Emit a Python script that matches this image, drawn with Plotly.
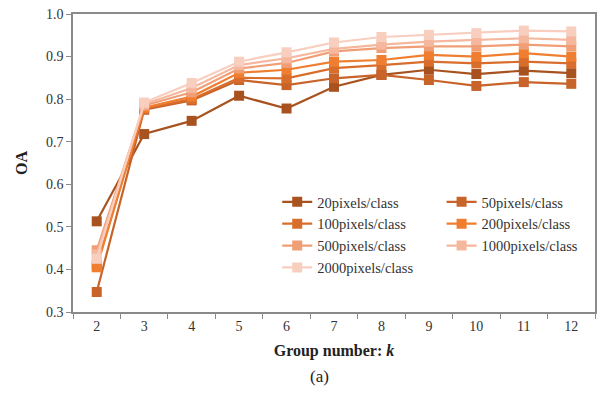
import plotly.graph_objects as go

k_values = ["2", "3", "4", "5", "6", "7", "8", "9", "10", "11", "12"]

series_names = ["20pixels/class", "50pixels/class", "100pixels/class", "200pixels/class",
                "500pixels/class", "1000pixels/class", "2000pixels/class"]

oa_20 = [0.513, 0.718, 0.749, 0.808, 0.778, 0.829, 0.857, 0.869, 0.859, 0.867, 0.861]
oa_50 = [0.347, 0.775, 0.797, 0.845, 0.833, 0.849, 0.857, 0.845, 0.831, 0.840, 0.836]
oa_100 = [0.410, 0.778, 0.800, 0.850, 0.849, 0.873, 0.880, 0.888, 0.884, 0.888, 0.884]
oa_200 = [0.405, 0.780, 0.806, 0.862, 0.869, 0.888, 0.892, 0.904, 0.900, 0.908, 0.900]
oa_500 = [0.445, 0.785, 0.816, 0.872, 0.885, 0.912, 0.920, 0.924, 0.924, 0.928, 0.924]
oa_1000 = [0.435, 0.788, 0.826, 0.880, 0.896, 0.918, 0.928, 0.935, 0.939, 0.943, 0.939]
oa_2000 = [0.425, 0.792, 0.838, 0.888, 0.910, 0.933, 0.946, 0.951, 0.955, 0.961, 0.959]

series_values = [oa_20, oa_50, oa_100, oa_200, oa_500, oa_1000, oa_2000]
series_colors = ["#A8531F", "#C8632A", "#D96E2C", "#EF7E30", "#F09E76", "#F5B79D", "#F8CEBF"]
# legend column for each series (two-column legend as in the reference)
legend_ids = ["legend", "legend2", "legend", "legend2", "legend", "legend2", "legend"]

fig = go.Figure()
for name, vals, col, lg in zip(series_names, series_values, series_colors, legend_ids):
    fig.add_trace(go.Scatter(
        x=k_values, y=vals, name=name, mode="lines+markers", legend=lg,
        line=dict(color=col, width=2.2),
        marker=dict(symbol="square", size=10, color=col),
    ))

font_family = "Liberation Serif"
axis_color = "#8a8a8a"
legend_style = dict(
    orientation="v", xanchor="left", yanchor="top",
    font=dict(family=font_family, size=14.5, color="#333333"),
    bgcolor="rgba(0,0,0,0)", tracegroupgap=0, itemwidth=30,
)

fig.update_layout(
    width=600, height=393, autosize=False,
    margin=dict(l=73, r=3, t=14, b=81),
    paper_bgcolor="white", plot_bgcolor="white",
    font=dict(family=font_family, size=14, color="#333333"),
    showlegend=True,
    legend=dict(x=(283 - 5 - 73) / 524, y=0.423, **legend_style),
    legend2=dict(x=(448 - 5 - 73) / 524, y=0.423, **legend_style),
    xaxis=dict(
        type="category", tickson="boundaries", range=[-0.5, 10.5],
        showline=True, linecolor=axis_color, linewidth=1.5, mirror=True,
        ticks="outside", ticklen=5, tickcolor=axis_color,
        showgrid=False, zeroline=False,
        tickfont=dict(family=font_family, size=14, color="#333333"),
        title=dict(text="<b>Group number: <i>k</i></b>",
                   font=dict(family=font_family, size=16, color="#222222"), standoff=12),
    ),
    yaxis=dict(
        range=[0.3, 1.0], dtick=0.1, tickformat=".1f",
        showline=True, linecolor=axis_color, linewidth=1.5, mirror=True,
        ticks="outside", ticklen=5, tickcolor=axis_color,
        showgrid=False, zeroline=False,
        tickfont=dict(family=font_family, size=14, color="#333333"),
        title=dict(text="<b>OA</b>", font=dict(family=font_family, size=16, color="#222222"), standoff=14),
    ),
)

fig.add_annotation(
    text="(a)", xref="paper", yref="paper", x=(320 - 73) / 524, y=-0.218,
    xanchor="center", yanchor="middle", showarrow=False,
    font=dict(family=font_family, size=17, color="#222222"),
)

post = ("document.body.style.margin='0';document.body.style.overflow='hidden';"
        "var gd=document.getElementById('{plot_id}');"
        "Plotly.relayout(gd,{width:600,height:393});")

fig.write_html("out.html", config={"responsive": False, "displayModeBar": False}, post_script=post)
